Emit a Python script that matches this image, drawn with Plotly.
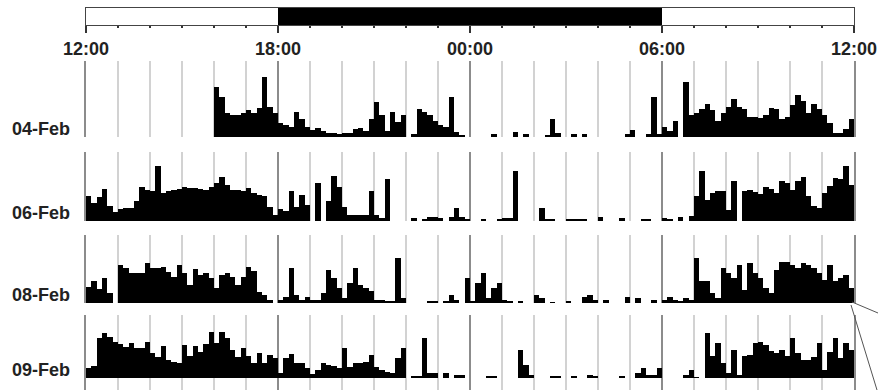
import plotly.graph_objects as go

# ---- data (10-minute activity bins, 144 per day starting at 12:00) ----
dates = ["04-Feb", "06-Feb", "08-Feb", "09-Feb"]
bins_per_hour = 6

act_04feb = [0]*24 + [
    50, 40, 24, 22, 22, 24, 27, 24, 29, 60, 30, 24,
    14, 12, 10, 25, 18, 10, 7, 9, 6, 4, 4, 3,
    4, 4, 8, 9, 6, 18, 35, 22, 6, 25, 15, 22,
    0, 3, 28, 25, 22, 16, 12, 10, 40, 5, 2, 0,
    0, 0, 0, 0, 3, 0, 0, 0, 5, 0, 3, 0,
    0, 0, 2, 18, 4, 0, 0, 3, 0, 3, 0, 0,
    0, 0, 0, 0, 0, 3, 7, 0, 0, 3, 40, 3,
    10, 6, 16, 0, 55, 22, 24, 28, 33, 27, 16, 24,
    30, 38, 30, 28, 20, 20, 19, 22, 29, 28, 18, 20,
    32, 42, 36, 24, 33, 28, 22, 14, 4, 4, 8, 18]

act_06feb = [
    25, 18, 24, 32, 15, 9, 12, 13, 13, 20, 34, 31,
    30, 55, 28, 30, 31, 32, 34, 33, 33, 32, 31, 34,
    38, 44, 36, 31, 31, 30, 33, 28, 26, 25, 14, 6,
    12, 10, 30, 14, 26, 16, 0, 38, 0, 20, 45, 34,
    14, 6, 6, 6, 6, 30, 6, 3, 42, 0, 0, 0,
    0, 3, 0, 2, 4, 4, 3, 0, 4, 13, 4, 2,
    0, 0, 2, 0, 0, 2, 3, 3, 50, 0, 0, 0,
    0, 13, 2, 2, 0, 0, 2, 2, 2, 2, 0, 0,
    4, 0, 0, 0, 3, 0, 0, 0, 2, 2, 0, 0,
    3, 2, 0, 4, 0, 5, 25, 50, 21, 28, 30, 30,
    11, 40, 0, 30, 31, 29, 27, 34, 32, 28, 40, 38,
    31, 40, 44, 25, 15, 13, 28, 35, 43, 42, 55, 36]

act_08feb = [
    16, 22, 14, 25, 10, 0, 38, 35, 30, 30, 30, 40,
    35, 35, 36, 31, 26, 38, 30, 18, 34, 28, 30, 25,
    15, 28, 30, 26, 18, 26, 36, 32, 11, 8, 3, 0,
    3, 6, 35, 8, 3, 6, 3, 3, 10, 33, 25, 15,
    5, 20, 35, 18, 15, 12, 3, 3, 2, 2, 45, 5,
    0, 0, 0, 0, 2, 2, 0, 2, 8, 3, 0, 25,
    2, 20, 30, 5, 15, 20, 3, 2, 0, 2, 0, 0,
    8, 5, 0, 1, 0, 0, 2, 0, 0, 6, 8, 3,
    0, 3, 0, 0, 0, 6, 0, 5, 0, 0, 3, 0,
    3, 6, 3, 2, 5, 3, 45, 22, 22, 10, 5, 35,
    30, 25, 38, 13, 40, 30, 25, 15, 10, 33, 41, 41,
    38, 35, 40, 38, 35, 30, 23, 38, 22, 25, 28, 15]

act_09feb = [
    10, 12, 40, 45, 41, 36, 34, 31, 35, 30, 30, 36,
    25, 21, 32, 18, 16, 15, 33, 22, 32, 26, 34, 46,
    35, 46, 40, 28, 21, 30, 22, 15, 25, 15, 23, 20,
    5, 20, 24, 15, 15, 10, 4, 8, 15, 13, 12, 10,
    30, 11, 15, 15, 16, 23, 11, 8, 6, 5, 20, 30,
    0, 2, 2, 40, 5, 5, 0, 5, 0, 3, 3, 0,
    0, 0, 0, 2, 2, 0, 0, 0, 0, 28, 13, 3,
    0, 0, 0, 2, 2, 0, 0, 2, 0, 0, 3, 2,
    0, 0, 0, 0, 2, 0, 0, 5, 10, 3, 3, 10,
    0, 0, 0, 0, 3, 8, 1, 0, 45, 22, 35, 15,
    5, 28, 3, 22, 23, 35, 36, 33, 27, 25, 28, 22,
    40, 25, 18, 18, 21, 35, 8, 26, 40, 20, 35, 28]

activity = [act_04feb, act_06feb, act_08feb, act_09feb]

# light / dark schedule (hours after 12:00)
ld_start = [0, 6, 18]
ld_end = [6, 18, 24]
ld_color = ["white", "black", "white"]

tick_vals = [0, 6, 12, 18, 24]
tick_text = ["12:00", "18:00", "00:00", "06:00", "12:00"]

# ---- layout geometry (pixels) ----
W, H = 878, 390
L, R = 86, 854
row_px = [(61, 137, 0), (152, 221, 0), (235, 303, 0), (315, 390, 12)]  # top, bottom, px below baseline
bar_px = (8, 25)

def pdom(top, bottom):
    return [1 - bottom / H, 1 - top / H]

FONT = "Liberation Sans"
fig = go.Figure()

for k, vals in enumerate(activity):
    n = len(vals)
    xs = [(i + 0.5) / bins_per_hour for i in range(n)]
    fig.add_trace(go.Bar(
        x=xs, y=vals, width=[1 / bins_per_hour] * n,
        marker=dict(color="black", line=dict(width=0)),
        xaxis="x", yaxis="y" if k == 0 else f"y{k+1}",
        showlegend=False, hoverinfo="skip"))

# light-dark bar
fig.add_trace(go.Bar(
    x=[(s + e) / 2 for s, e in zip(ld_start, ld_end)],
    y=[1] * len(ld_start),
    width=[e - s for s, e in zip(ld_start, ld_end)],
    marker=dict(color=ld_color, line=dict(width=0)),
    xaxis="x2", yaxis="y5", showlegend=False, hoverinfo="skip"))

layout = dict(
    width=W, height=H,
    margin=dict(l=L, r=W - R, t=0, b=0),
    paper_bgcolor="white", plot_bgcolor="white",
    bargap=0, barmode="overlay",
    xaxis=dict(range=[0, 24], domain=[0, 1], anchor="y",
               tickmode="array", tickvals=[6, 12, 18], showticklabels=False,
               ticks="", showgrid=True, gridcolor="#8c8c8c", gridwidth=2,
               zeroline=False, showline=False,
               minor=dict(tickmode="linear", tick0=0, dtick=1, showgrid=True,
                          gridcolor="#d2d2d2", gridwidth=1.5, ticks="")),
    xaxis2=dict(range=[0, 24], domain=[0, 1], anchor="y5",
                tickmode="array", tickvals=tick_vals, ticktext=tick_text,
                ticks="outside", ticklen=7, tickwidth=1.5, tickcolor="#333",
                showgrid=False, zeroline=False,
                showline=True, linecolor="#444", linewidth=1, mirror=True,
                tickfont=dict(family=FONT, size=18, color="#222", weight="bold"),
                minor=dict(tickmode="linear", tick0=0, dtick=1, ticks="outside",
                           ticklen=2, tickwidth=1.5, tickcolor="#333")),
    yaxis5=dict(domain=pdom(*bar_px), range=[0, 1], anchor="x2",
                showticklabels=False, ticks="", showgrid=False, zeroline=False,
                showline=True, linecolor="#444", linewidth=1, mirror=True),
)

annotations = []
for k, (top, bottom, below) in enumerate(row_px):
    name = "yaxis" if k == 0 else f"yaxis{k+1}"
    hpx = bottom - top
    layout[name] = dict(
        domain=pdom(top, bottom), range=[-below, hpx - below], anchor="x",
        showticklabels=False, ticks="", showgrid=False, zeroline=False,
        showline=True, mirror=True, linecolor="#8c8c8c", linewidth=2)
    annotations.append(dict(
        text=dates[k], xref="paper", x=(72 - L) / (R - L), xanchor="right",
        yref="y" if k == 0 else f"y{k+1}", y=0, yanchor="bottom", yshift=-4,
        showarrow=False,
        font=dict(family=FONT, size=18, color="#222", weight="bold")))

layout["annotations"] = annotations

def px2paper(x, y):
    return (x - L) / (R - L), 1 - y / H

x0, y0 = px2paper(852, 302)
x1, y1 = px2paper(878, 313)
x2, y2 = px2paper(851, 305)
x3, y3 = px2paper(877, 390)
layout["shapes"] = [
    dict(type="line", xref="paper", yref="paper", x0=x0, y0=y0, x1=x1, y1=y1,
         line=dict(color="#555", width=1)),
    dict(type="line", xref="paper", yref="paper", x0=x2, y0=y2, x1=x3, y1=y3,
         line=dict(color="#555", width=1)),
]

fig.update_layout(**layout)
fig.write_html("out.html")
